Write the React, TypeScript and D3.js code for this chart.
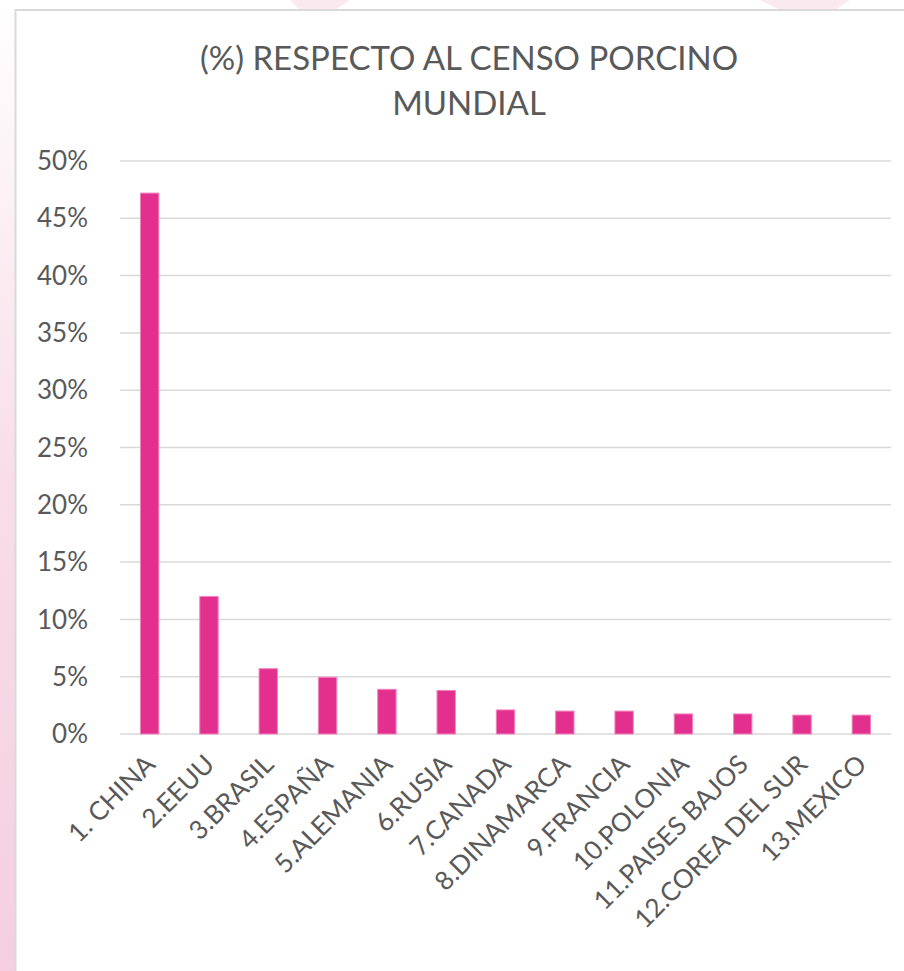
import React from "react";
import * as d3 from "d3";

const categories = [
  "1. CHINA",
  "2.EEUU",
  "3.BRASIL",
  "4.ESPAÑA",
  "5.ALEMANIA",
  "6.RUSIA",
  "7.CANADA",
  "8.DINAMARCA",
  "9.FRANCIA",
  "10.POLONIA",
  "11.PAISES BAJOS",
  "12.COREA DEL SUR",
  "13.MEXICO",
];
const values = [47.2, 12.0, 5.7, 4.95, 3.9, 3.8, 2.1, 2.0, 2.0, 1.75, 1.75, 1.65, 1.65];
const yTicks = [0, 5, 10, 15, 20, 25, 30, 35, 40, 45, 50];
const titleLines = ["(%) RESPECTO AL CENSO PORCINO", "MUNDIAL"];

const W = 904;
const H = 971;
const FONT = "Lato, 'Open Sans', sans-serif";
const TEXT = "#595959";

export default function App() {
  const x = d3.scaleBand<string>().domain(categories).range([120, 891]).paddingInner(0.69).paddingOuter(0.345);
  const y = d3.scaleLinear().domain([0, 50]).range([734, 161]);

  return (
    <div style={{ position: "absolute", left: 0, top: 0 }}>
      <svg width={W} height={H} style={{ display: "block" }}>
        <defs>
          <linearGradient id="leftStrip" x1="0" y1="0" x2="0" y2="1">
            <stop offset="0" stopColor="#ffffff" />
            <stop offset="0.25" stopColor="#fbeef3" />
            <stop offset="0.5" stopColor="#f8dde8" />
            <stop offset="1" stopColor="#f5cfe0" />
          </linearGradient>
        </defs>
        <rect x={0} y={0} width={W} height={H} fill="#ffffff" />
        <rect x={0} y={0} width={16} height={H} fill="url(#leftStrip)" />
        <path d="M290,0 L350,0 L335,10 L300,10 Z" fill="#fbe9f0" />
        <path d="M760,0 L850,0 L835,10 L780,10 Z" fill="#fbe9f0" />
        {/* chart area */}
        <rect x={15.5} y={10} width={W} height={H} fill="#ffffff" stroke="#d9d9d9" strokeWidth={2} />

        {titleLines.map((t, i) => (
          <text
            key={t}
            x={469}
            y={70 + i * 45}
            textAnchor="middle"
            fontFamily={FONT}
            fontSize={33}
            fill={TEXT}
          >
            {t}
          </text>
        ))}

        {yTicks.map((t) => (
          <g key={t}>
            <line x1={120} x2={891} y1={y(t)} y2={y(t)} stroke="#d9d9d9" strokeWidth={1.5} />
            <text
              x={88}
              y={y(t)}
              dy="0.35em"
              textAnchor="end"
              fontFamily={FONT}
              fontSize={26}
              fill={TEXT}
            >
              {t}%
            </text>
          </g>
        ))}

        {categories.map((c, i) => (
          <rect
            key={c}
            x={x(c)}
            y={y(values[i])}
            width={x.bandwidth()}
            height={y(0) - y(values[i])}
            fill="#e3308f"
            stroke="#f284bd"
            strokeWidth={1}
          />
        ))}

        {categories.map((c) => {
          const cx = (x(c) as number) + x.bandwidth() / 2 + 7;
          const cy = y(0) + 32;
          return (
            <text
              key={c}
              transform={`translate(${cx},${cy}) rotate(-45)`}
              textAnchor="end"
              fontFamily={FONT}
              fontSize={26}
              fill={TEXT}
            >
              {c}
            </text>
          );
        })}
      </svg>
    </div>
  );
}
